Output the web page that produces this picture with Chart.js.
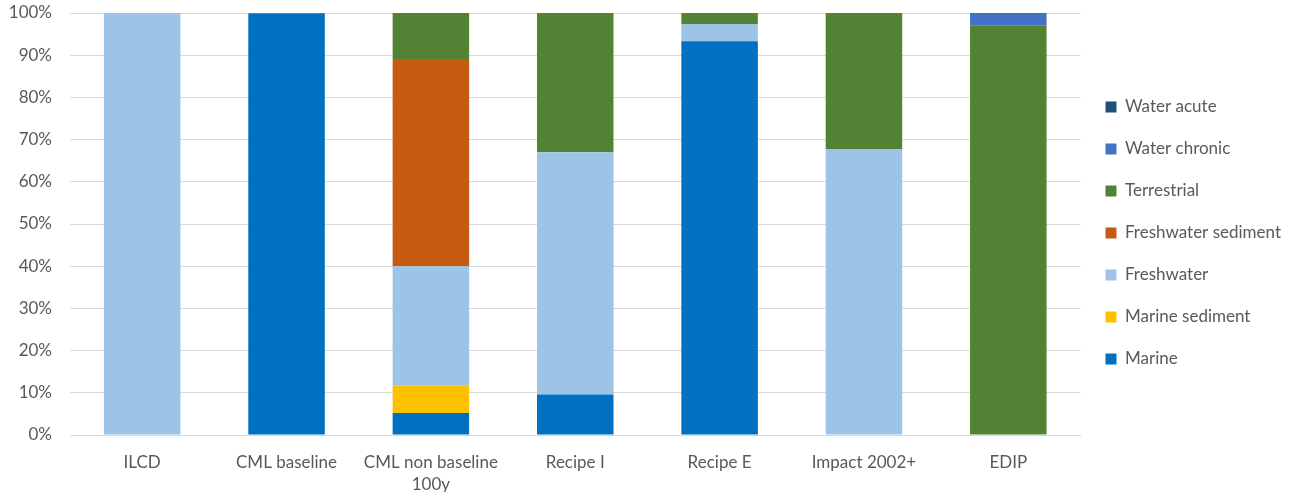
<!DOCTYPE html>
<html lang="en">

<head>
    <meta charset="UTF-8">
    <title>Ecotoxicity share by method</title>
    <style>
        html, body { margin: 0; padding: 0; background: #fff; }
        #wrap { width: 1301px; height: 492px; }
    </style>
</head>

<body>
    <div id="wrap"><canvas id="shareCanvas"></canvas></div>

    <script src="https://cdn.jsdelivr.net/npm/chart.js@4.4.1/dist/chart.umd.min.js"></script>
    <script>
        // methods on the x axis
        const methods = ['ILCD', 'CML baseline', ['CML non baseline', '100y'], 'Recipe I', 'Recipe E', 'Impact 2002+', 'EDIP'];

        // share of each compartment per method (%)
        const marine            = [0,   99.8, 5.2,  9.6,  93.3, 0,    0];
        const marineSediment    = [0,   0,    6.6,  0,    0,    0,    0];
        const freshwater        = [100, 0,    28.2, 57.4, 4.1,  67.8, 0];
        const freshwaterSediment= [0,   0,    49.1, 0,    0,    0,    0];
        const terrestrial       = [0,   0.2,  10.9, 33.0, 2.6,  32.2, 97.0];
        const waterChronic      = [0,   0,    0,    0,    0,    0,    2.8];
        const waterAcute        = [0,   0,    0,    0,    0,    0,    0.2];

        const yTicks = [0, 10, 20, 30, 40, 50, 60, 70, 80, 90, 100];

        const series = [
            { label: 'Marine', data: marine, color: '#0070C0' },
            { label: 'Marine sediment', data: marineSediment, color: '#FFC000' },
            { label: 'Freshwater', data: freshwater, color: '#9DC3E6' },
            { label: 'Freshwater sediment', data: freshwaterSediment, color: '#C55A11' },
            { label: 'Terrestrial', data: terrestrial, color: '#548235' },
            { label: 'Water chronic', data: waterChronic, color: '#4472C4' },
            { label: 'Water acute', data: waterAcute, color: '#1F4E79' }
        ];

        const font = { family: 'Lato, "Open Sans", sans-serif', size: 17 };
        const textColor = '#595959';

        var ctx = document.getElementById('shareCanvas').getContext('2d');
        var shareChart = new Chart(ctx, {
            type: 'bar',
            data: {
                labels: methods,
                datasets: series.map(s => ({
                    label: s.label,
                    data: s.data,
                    backgroundColor: s.color,
                    borderWidth: 0,
                    barPercentage: 0.53,
                    categoryPercentage: 1
                }))
            },
            options: {
                responsive: true,
                maintainAspectRatio: false,
                animation: false,
                layout: { padding: { top: 13, right: 10, left: 0, bottom: 0 } },
                plugins: {
                    tooltip: { enabled: false },
                    legend: {
                        position: 'right',
                        reverse: true,
                        align: 'start',
                        title: { display: true, text: '', padding: 23 },
                        labels: {
                            font: font,
                            color: textColor,
                            boxWidth: 11,
                            boxHeight: 11,
                            padding: 25
                        }
                    }
                },
                scales: {
                    x: {
                        stacked: true,
                        grid: { display: false },
                        border: { color: '#d9d9d9' },
                        afterFit: axis => { axis.height = 57; },
                        ticks: {
                            font: { ...font, lineHeight: 1.3 },
                            color: textColor,
                            maxRotation: 0,
                            padding: 8
                        }
                    },
                    y: {
                        stacked: true,
                        min: 0,
                        max: 100,
                        afterBuildTicks: axis => { axis.ticks = yTicks.map(v => ({ value: v })); },
                        afterFit: axis => {
                            axis.width = 70;
                            axis.paddingTop = 0;
                            axis.paddingBottom = 0;
                        },
                        grid: { color: '#d9d9d9', drawTicks: false },
                        border: { display: false },
                        ticks: {
                            font: font,
                            color: textColor,
                            padding: 18,
                            callback: v => v + '%'
                        }
                    }
                }
            }
        });
    </script>
</body>

</html>
